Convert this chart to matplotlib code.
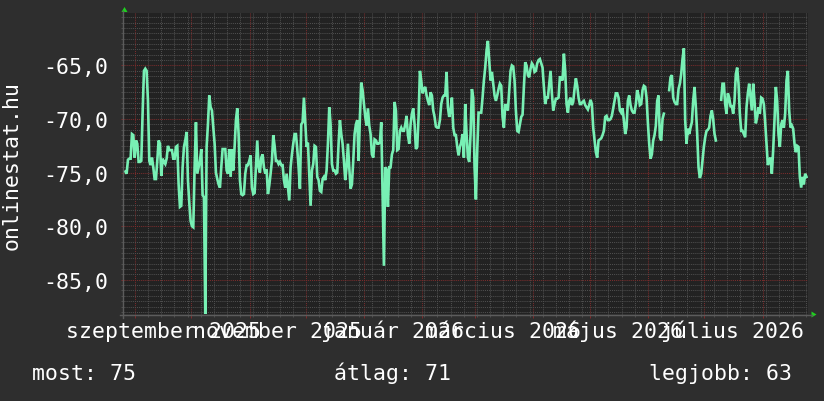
import numpy as np
import pandas as pd
import matplotlib
matplotlib.use("Agg")
import matplotlib.pyplot as plt
import matplotlib.dates as mdates
from matplotlib.patches import Polygon
from matplotlib.lines import Line2D
from matplotlib.ticker import MultipleLocator, FixedLocator, NullFormatter, FuncFormatter

# ---------------- data (signal level, dBm) ----------------
series_start = "2025-08-26 20:00"
series_end = "2026-08-24 09:40"

values_part1 = [
    -74.9, -75.1, -73.8, -73.7, -73.7, -71.4, -71.5, -73.6, -72.0, -72.3,
    -74.0, -74.0, -73.9, -69.4, -65.5, -65.3, -65.5, -68.3, -73.9, -74.3,
    -73.6, -74.5, -75.6, -75.6, -73.9, -72.0, -72.3, -75.3, -73.7, -74.0,
    -74.2, -73.7, -72.5, -72.9, -72.9, -72.9, -73.7, -73.7, -72.6, -72.5,
    -76.1, -78.2, -78.1, -74.5, -72.6, -72.0, -71.2, -75.7, -77.8, -79.5,
    -80.0, -80.1, -74.5, -70.3, -75.1, -74.5, -73.9, -72.8, -77.1, -77.3,
    -88.2, -72.6, -70.5, -67.8, -68.9, -69.2, -70.8, -72.3, -75.0, -75.6,
    -76.1, -76.4, -74.5, -72.8, -72.8, -72.8, -74.8, -75.1, -72.8, -75.4,
    -72.8, -74.8, -72.6, -70.1, -69.0, -71.4, -75.7, -77.0, -77.1, -77.0,
    -75.1, -74.3, -74.3, -73.9, -73.4, -76.4, -77.0, -76.9, -74.5, -72.0,
    -74.5, -75.0, -73.6, -73.3, -74.5, -75.1, -74.7, -77.0, -76.2, -75.1,
    -73.9, -71.5, -72.5, -73.9, -73.9, -74.2, -74.0, -74.3, -74.3, -75.7,
    -76.4, -75.1, -76.4, -77.6, -74.5, -73.3, -72.3, -71.4, -71.4, -72.8,
    -74.5, -76.5, -70.5, -70.3, -68.0, -70.3, -72.6, -72.2, -75.1, -78.1,
    -74.8, -74.2, -72.5, -72.6, -75.4, -75.7, -76.7, -76.8, -75.6, -75.4,
    -75.7, -74.8, -72.3, -68.9, -70.5, -74.2, -74.8, -74.8, -75.1, -75.0,
    -72.3, -70.1, -71.4, -72.3, -73.9, -75.7, -74.5, -72.3, -74.5, -76.5,
    -76.1, -73.9, -71.4, -70.5, -70.1, -73.9, -69.8, -66.6, -67.3, -68.6,
    -69.8, -70.6, -69.0, -70.6, -71.4, -73.3, -73.6, -71.9, -72.0, -72.3,
    -72.3, -72.2, -70.3, -77.0, -83.7, -74.5, -74.7, -78.2, -74.5, -74.5,
    -73.3, -72.9, -68.4, -69.2, -72.9, -72.8, -71.1, -70.8, -71.1, -71.1,
    -70.5, -69.7, -71.5, -72.3, -70.5, -69.5, -69.0, -70.5, -72.8, -72.6,
    -69.8, -65.5, -66.4, -67.6, -67.2, -67.0, -67.8, -68.3, -68.7, -67.5,
    -67.8, -69.2, -69.8, -70.7, -70.8, -70.8, -70.1, -68.6, -68.0, -67.8,
    -67.8, -65.6, -68.9, -69.8, -69.2, -68.0, -70.8, -71.5, -71.5, -72.6,
    -73.4, -72.6, -72.2, -71.4, -73.6,
]

values_part2 = [
    -68.6, -71.4, -73.6, -74.0, -71.4, -67.2, -68.0, -74.5, -77.5, -72.9,
    -69.4, -69.4, -69.4, -68.0, -66.4, -65.2, -63.6, -62.7, -64.5, -66.4,
    -65.6, -66.7, -67.8, -68.3, -67.8, -67.2, -66.7, -66.9, -69.8, -70.8,
    -68.7, -68.7, -69.2, -67.3, -65.5, -65.0, -65.1, -66.4, -69.2, -71.1,
    -71.2, -70.5, -69.8, -69.6, -67.0, -64.7, -65.0, -65.9, -66.1, -65.3,
    -64.8, -65.0, -65.6, -65.5, -64.8, -64.5, -64.4, -64.8, -65.2, -67.0,
    -68.6, -68.0, -68.0, -66.7, -65.5, -67.6, -69.2, -68.6, -68.1, -68.1,
    -68.0, -66.1, -66.1, -66.4, -63.9, -65.5, -68.6, -69.4, -68.3, -68.0,
    -68.7, -68.4, -67.2, -66.2, -66.9, -68.0, -68.6, -68.6, -68.4, -68.3,
    -68.7, -68.9, -69.1, -68.7, -68.2, -68.6, -70.8, -72.0, -73.1, -73.6,
    -72.0, -71.9, -71.8, -71.5, -71.1, -69.8, -69.7, -70.1, -70.1, -70.0,
    -69.7, -69.0, -68.3, -67.6, -67.6, -68.0, -69.2, -69.4, -69.0, -70.1,
    -71.4, -70.8, -68.3, -67.8, -68.7, -69.2, -69.4, -69.4, -68.6, -67.3,
    -67.8, -68.7, -68.6, -67.3, -66.9, -67.0, -68.0, -70.3, -72.3, -73.7,
    -73.3, -72.0, -71.5, -70.6, -68.3, -67.8, -71.7, -72.0, -70.0, -69.5,
    None, None, None, -67.3, -66.1, -65.9, -68.0, -68.4, -68.6, -68.6,
    -67.2, -66.7, -65.8, -64.4, -63.4, -70.1, -72.3, -70.9, -71.4, -70.8,
    -70.3, -68.3, -67.0, -68.9, -71.4, -74.5, -75.5, -75.1, -73.9, -72.6,
    -71.7, -71.1, -71.0, -70.8, -69.7, -69.2, -70.0, -71.4, -72.0, None,
    None, None, -68.2, -66.7, -66.7, -68.6, -69.5, -67.6, -68.0, -68.8,
    -68.8, -69.5, -68.3, -65.8, -65.2, -66.7, -69.5, -71.1, -71.1, -71.4,
    -71.7, -68.9, -67.6, -66.7, -68.0, -69.2, -66.7, -68.3, -70.4, -69.8,
    -68.9, -69.5, -68.0, -68.1, -68.6, -70.3, -72.3, -74.3, -73.9, -73.6,
    -75.1, -72.9, -70.1, -67.0, -68.3, -71.4, -72.6, -70.5, -70.1, -70.8,
    -69.5, -66.4, -65.5, -69.2, -70.8, -70.6, -70.9, -72.3, -73.1, -72.5,
    -72.6, -75.4, -76.4, -75.4, -76.1, -75.1, -75.4,
]

x_start = "2025-08-26 03:30"
x_end = "2026-08-25 04:50"
y_min, y_max = -88.2, -60.1
y_major_ticks = [-85, -80, -75, -70, -65]

label_months = ["2025-09-16", "2025-11-16", "2026-01-16", "2026-03-16", "2026-05-16", "2026-07-16"]
label_texts = ["szeptember 2025", "november 2025", "január 2026", "március 2026", "május 2026", "július 2026"]

y_title = "onlinestat.hu"
legend_items = ["most: 75", "átlag: 71", "legjobb: 63"]

# ---------------- style ----------------
FIG_BG = "#2e2e2e"
AX_BG = "#222222"
LINE_C = "#78f0b4"
MINOR_C = "#4e4e4e"
MAJOR_C = "#7a2c2c"
AXIS_C = "#5c5c5c"
ARROW_C = "#1fd01f"
FONT = "DejaVu Sans Mono"
FS = 15.5

W, H = 824, 402
fig = plt.figure(figsize=(W / 100, H / 100), dpi=100, facecolor=FIG_BG)
L, R, T, B = 124, 808, 14, 315
ax = fig.add_axes([L / W, 1 - B / H, (R - L) / W, (B - T) / H])
ax.set_facecolor(AX_BG)

vals = np.array([np.nan if v is None else v for v in values_part1 + values_part2], dtype=float)
times = pd.date_range(series_start, series_end, periods=len(vals))

ax.plot(times, vals, color=LINE_C, lw=1.9, solid_joinstyle="miter", zorder=5)

ax.set_xlim(pd.Timestamp(x_start), pd.Timestamp(x_end))
ax.set_ylim(y_min, y_max)

# grids
ax.xaxis.set_major_locator(mdates.MonthLocator())
ax.xaxis.set_minor_locator(mdates.WeekdayLocator(byweekday=mdates.MO))
ax.xaxis.set_major_formatter(NullFormatter())
ax.yaxis.set_major_locator(FixedLocator(y_major_ticks))
ax.yaxis.set_minor_locator(MultipleLocator(0.5))
ax.yaxis.set_major_formatter(FuncFormatter(lambda v, p: f"{v:.1f}".replace(".", ",")))

ax.grid(which="minor", color=MINOR_C, linestyle=(0, (1, 1)), lw=0.75)
ax.grid(which="major", color=MAJOR_C, linestyle=(0, (1, 1)), lw=0.75)
ax.set_axisbelow(True)

ax.tick_params(axis="both", which="minor", length=2, width=0.75, color=MINOR_C, direction="out")
ax.tick_params(axis="x", which="major", length=3, width=0.75, color=MAJOR_C, direction="out")
ax.tick_params(axis="y", which="major", length=2, width=0.75, color=MAJOR_C, direction="out",
               labelsize=FS, labelcolor="white", pad=9)
for lab in ax.get_yticklabels():
    lab.set_fontfamily(FONT)

for s in ax.spines.values():
    s.set_visible(False)

# axis lines (extended, like the original)
fig.add_artist(Line2D([120 / W, 812 / W], [1 - (B + 0.5) / H, 1 - (B + 0.5) / H],
                      color=AXIS_C, lw=1.0, transform=fig.transFigure))
fig.add_artist(Line2D([(L - 0.5) / W, (L - 0.5) / W], [1 - 319 / H, 1 - 12 / H],
                      color=AXIS_C, lw=1.0, transform=fig.transFigure))

# arrows
def fpt(x, y):
    return (x / W, 1 - y / H)

fig.add_artist(Polygon([fpt(124.5, 8.0), fpt(121.5, 13.0), fpt(127.5, 13.0)], closed=True,
                       color=ARROW_C, transform=fig.transFigure, lw=0))
fig.add_artist(Polygon([fpt(816.5, 315.5), fpt(811.5, 312.5), fpt(811.5, 318.5)], closed=True,
                       color=ARROW_C, transform=fig.transFigure, lw=0))

# month labels
xt = ax.get_xaxis_transform()
lab_y = -(338 - B) / (B - T)
for d, t in zip(label_months, label_texts):
    ax.text(pd.Timestamp(d), lab_y, t, transform=xt, ha="center", va="baseline",
            color="white", fontsize=FS, fontfamily=FONT, clip_on=False)

# y title
fig.text(12 / W, 1 - 166 / H, y_title, rotation=90, ha="center", va="center",
         color="white", fontsize=FS, fontfamily=FONT)

# legend line
legend_x = [32, 334, 649]
for lx, t in zip(legend_x, legend_items):
    fig.text(lx / W, 1 - 380 / H, t, ha="left", va="baseline", color="white",
             fontsize=FS, fontfamily=FONT)

fig.savefig("out.png", dpi=100, facecolor=FIG_BG)
